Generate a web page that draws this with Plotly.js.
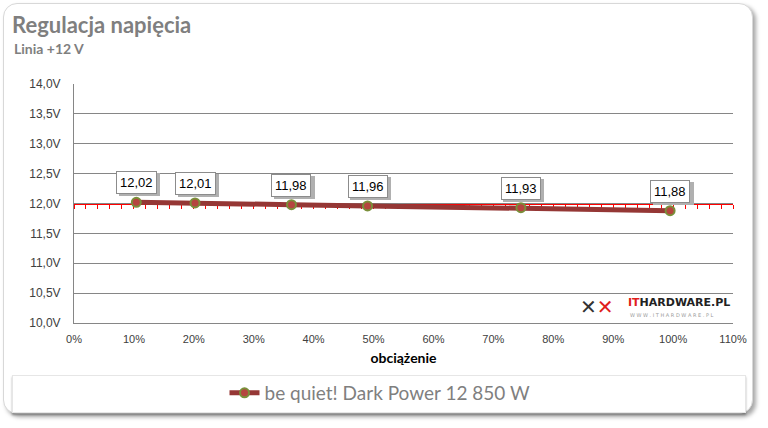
<!DOCTYPE html>
<html>
<head>
<meta charset="utf-8">
<script src="https://cdn.plot.ly/plotly-3.0.1.min.js"></script>
<style>
  html, body { margin:0; padding:0; background:#ffffff; width:768px; height:428px; overflow:hidden; }
  #frame { position:absolute; left:3px; top:3px; width:748px; height:409px; border:1px solid #d8d8d8; border-radius:14px; box-shadow:3px 3px 4px rgba(0,0,0,0.35); background:#fff; }
  #legbox { position:absolute; left:12px; top:375px; width:732px; height:36px; border:1px solid #e6e6e6; box-shadow:0 2px 2px rgba(0,0,0,0.3); background:#fff; }
  #chart { position:absolute; left:0; top:0; width:768px; height:428px; }
</style>
</head>
<body>
<div id="frame"></div>
<div id="legbox"></div>
<div id="chart"></div>
<script>
// Data
const seriesName = "be quiet! Dark Power 12 850 W";
const loadFraction = [0.104, 0.202, 0.363, 0.490, 0.746, 0.995];
const voltage = [12.02, 12.01, 11.98, 11.96, 11.93, 11.88];
const xTickVals = [0, 0.1, 0.2, 0.3, 0.4, 0.5, 0.6, 0.7, 0.8, 0.9, 1.0, 1.1];

const labelText = voltage.map(v => v.toFixed(2).replace('.', ','));
const shadowText = labelText.map(t => '&nbsp;'.repeat(9));

const traces = [
  {
    x: loadFraction, y: voltage, xaxis: 'x2', yaxis: 'y',
    mode: 'markers', marker: {opacity: 0}, showlegend: false, hoverinfo: 'skip'
  },
  {
    x: loadFraction, y: voltage, name: seriesName, type: 'scatter', mode: 'lines+markers',
    line: {color: '#953735', width: 5},
    marker: {size: 9, color: '#b5453f', line: {color: '#7a8f3a', width: 2}}
  }
];

const annotations = [];
// shadows
loadFraction.forEach((x, i) => {
  annotations.push({
    x: x, y: voltage[i], xref: 'x', yref: 'y', text: shadowText[i], showarrow: false,
    yanchor: 'bottom', yshift: 6, xshift: 3,
    font: {family: 'Liberation Sans, Arial, sans-serif', size: 13, color: '#b0b0b0'},
    bgcolor: '#b0b0b0', bordercolor: '#b0b0b0', borderwidth: 1, borderpad: 3
  });
});
loadFraction.forEach((x, i) => {
  annotations.push({
    x: x, y: voltage[i], xref: 'x', yref: 'y', text: labelText[i], showarrow: false,
    yanchor: 'bottom', yshift: 8,
    font: {family: 'Liberation Sans, Arial, sans-serif', size: 13, color: '#000000'},
    bgcolor: '#ffffff', bordercolor: '#8c8c8c', borderwidth: 1, borderpad: 3
  });
});
// subtitle
annotations.push({
  xref: 'paper', yref: 'paper', x: (12 - 74) / 659, y: (323 - 48) / 239,
  xanchor: 'left', yanchor: 'middle', showarrow: false, text: '<b>Linia +12 V</b>',
  font: {family: 'Lato, sans-serif', size: 14, color: '#7f7f7f'}
});
// logo text
annotations.push({
  xref: 'paper', yref: 'paper', x: (626 - 74) / 659, y: (323 - 302) / 239,
  xanchor: 'left', yanchor: 'middle', showarrow: false,
  text: '<b><span style="color:#e0201c">IT</span>HARDWARE.PL</b>',
  font: {family: 'DejaVu Sans, sans-serif', size: 11, color: '#222222'}
});
annotations.push({
  xref: 'paper', yref: 'paper', x: (628 - 74) / 659, y: (323 - 315) / 239,
  xanchor: 'left', yanchor: 'middle', showarrow: false,
  text: 'W W W . I T H A R D W A R E . P L',
  font: {family: 'DejaVu Sans, sans-serif', size: 5, color: '#9a9a9a'}
});
annotations.push({
  xref: 'paper', yref: 'paper', x: (578 - 74) / 659, y: (323 - 307) / 239,
  xanchor: 'left', yanchor: 'middle', showarrow: false,
  text: '<b>✕</b><span style="color:#e0201c"><b>✕</b></span>',
  font: {family: 'DejaVu Sans, sans-serif', size: 20, color: '#333333'}
});

const layout = {
  width: 768, height: 428,
  margin: {l: 74, r: 35, t: 84, b: 105},
  paper_bgcolor: 'rgba(0,0,0,0)', plot_bgcolor: 'rgba(0,0,0,0)',
  separators: ', ',
  font: {family: 'Liberation Sans, Arial, sans-serif', color: '#404040'},
  title: {
    text: '<b>Regulacja napięcia</b>', xref: 'container', yref: 'container',
    x: 12 / 768, xanchor: 'left', y: 1 - 25 / 428, yanchor: 'middle',
    font: {family: 'Lato, sans-serif', size: 22, color: '#7f7f7f'}
  },
  xaxis: {
    range: [0, 1.1], tickvals: xTickVals, tickformat: '.0%',
    showgrid: false, zeroline: false, showline: true, linecolor: '#868686', linewidth: 1,
    ticks: '', ticklabelstandoff: 6, tickfont: {size: 11, color: '#404040'},
    title: {text: '<b>obciążenie</b>', font: {family: 'Lato, sans-serif', size: 14, color: '#000000'}, standoff: 8}
  },
  xaxis2: {
    overlaying: 'x', matches: 'x', anchor: 'free', position: 0.5, side: 'bottom',
    range: [0, 1.1], dtick: 0.02, tick0: 0, ticks: 'outside', ticklen: 4, tickwidth: 1, tickcolor: '#ff0000',
    showline: true, linecolor: '#ff0000', linewidth: 1.5, showticklabels: false,
    showgrid: false, zeroline: false, layer: 'below traces'
  },
  yaxis: {
    range: [10, 14], dtick: 0.5, tick0: 10, tickformat: '.1f', ticksuffix: 'V',
    showgrid: true, gridcolor: '#868686', gridwidth: 1, zeroline: false,
    showline: true, linecolor: '#868686', linewidth: 1, ticks: '', ticklabelstandoff: 10,
    tickfont: {size: 12, color: '#404040'}
  },
  showlegend: true,
  legend: {
    orientation: 'h', x: (380 - 74) / 659, xanchor: 'center', y: (323 - 393) / 239, yanchor: 'middle',
    font: {family: 'Lato, sans-serif', size: 19, color: '#7f7f7f'},
    bgcolor: 'rgba(0,0,0,0)'
  },
  annotations: annotations
};

Plotly.newPlot('chart', traces, layout, {displayModeBar: false, staticPlot: true});
</script>
</body>
</html>
